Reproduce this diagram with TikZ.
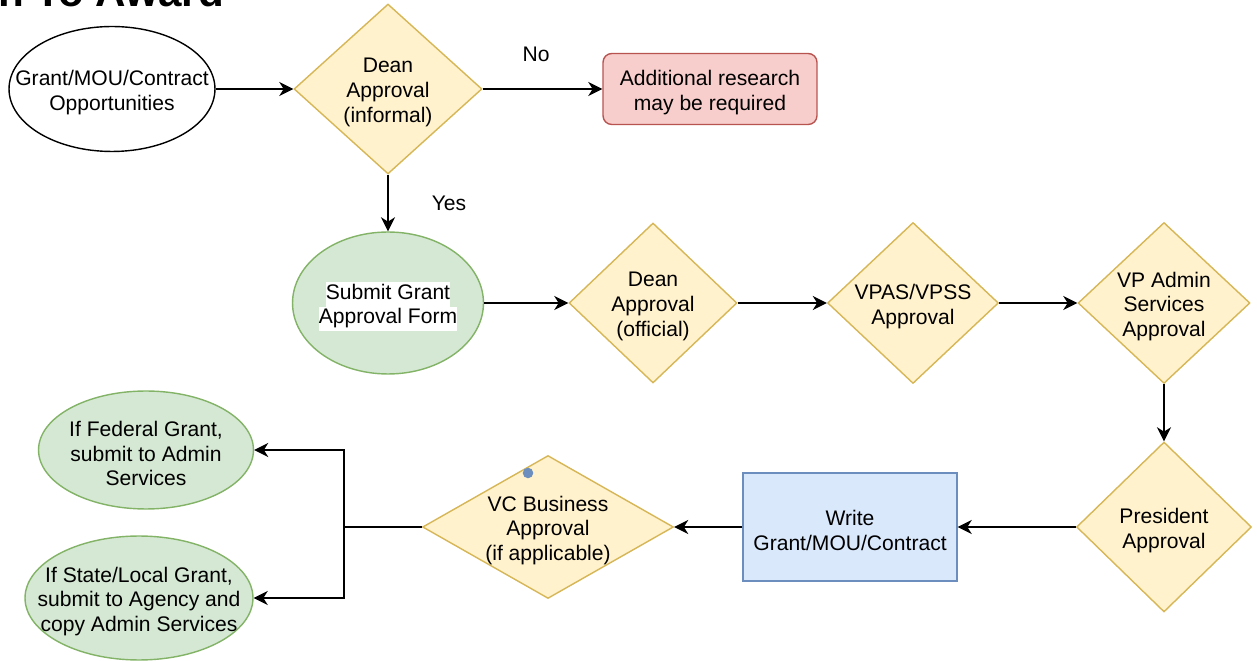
\documentclass[tikz,border=0pt]{standalone}
\usepackage{fontspec}
\setmainfont{Liberation Sans}
\usetikzlibrary{shapes.geometric,arrows.meta}
\definecolor{decfill}{HTML}{FFF2CC}
\definecolor{decline}{HTML}{D6B656}
\definecolor{okfill}{HTML}{D5E8D4}
\definecolor{okline}{HTML}{82B366}
\definecolor{stopfill}{HTML}{F8CECC}
\definecolor{stopline}{HTML}{B85450}
\definecolor{taskfill}{HTML}{DAE8FC}
\definecolor{taskline}{HTML}{6C8EBF}
\setlength{\fboxsep}{0pt}
\begin{document}
\begin{tikzpicture}[x=0.02cm,y=-0.02cm,
                        font=\fontsize{12pt}{14.2pt}\selectfont,
                        txt/.style={align=center,yshift=-2pt},
                        flow/.style={line width=1.1pt,-{Stealth[length=8pt,width=8pt,inset=2.5pt]}},
                        decision/.style={diamond,draw=decline,fill=decfill,line width=0.8pt,inner sep=0pt},
                        greenoval/.style={ellipse,draw=okline,fill=okfill,line width=0.8pt,inner sep=0pt}]
                        \useasboundingbox (0,0) rectangle (1257,661);
                        \node[font=\fontsize{24pt}{28pt}\selectfont\bfseries,anchor=base west,inner sep=0pt] (title) at (-2,7) {n To Award};
                        \node[ellipse,draw,line width=0.8pt,inner sep=0pt,minimum width=4.12cm,minimum height=2.5cm,
                            label={[txt]center:Grant/MOU/Contract\\Opportunities}] (opps) at (112,89) {};
                        \node[decision,minimum width=3.76cm,minimum height=3.4cm,
                            label={[txt]center:Dean\\Approval\\(informal)}] (deaninf) at (388,89) {};
                        \node[draw=stopline,fill=stopfill,line width=0.8pt,rounded corners=5pt,minimum width=4.28cm,minimum height=1.42cm,
                            label={[txt]center:Additional research\\may be required}] (research) at (710,89) {};
                        \node (nolbl) at (536,54) {No};
                        \node (yeslbl) at (449,203) {Yes};
                        \node[greenoval,minimum width=3.82cm,minimum height=2.84cm,
                            label={[txt]center:\colorbox{white}{\strut Submit Grant}\\\colorbox{white}{\strut Approval Form}}] (submit) at (388,303) {};
                        \node[decision,minimum width=3.36cm,minimum height=3.2cm,
                            label={[txt]center:Dean\\Approval\\(official)}] (deanoff) at (653,303) {};
                        \node[decision,minimum width=3.42cm,minimum height=3.22cm,
                            label={[txt]center:VPAS/VPSS\\Approval}] (vpas) at (913,303) {};
                        \node[decision,minimum width=3.44cm,minimum height=3.22cm,
                            label={[txt]center:VP Admin\\Services\\Approval}] (vpadmin) at (1164,303) {};
                        \node[decision,minimum width=3.5cm,minimum height=3.4cm,
                            label={[txt]center:President\\Approval}] (president) at (1164,527) {};
                        \node[draw=taskline,fill=taskfill,line width=0.8pt,minimum width=4.28cm,minimum height=2.16cm,
                            label={[txt]center:Write\\Grant/MOU/Contract}] (writeup) at (850,527) {};
                        \node[decision,minimum width=5.02cm,minimum height=2.86cm,
                            label={[txt]center:VC Business\\Approval\\(if applicable)}] (vcbiz) at (548,527) {};
                        \fill[taskline] (528,473) coordinate (hoverdot) circle (3pt);
                        \node[greenoval,minimum width=4.3cm,minimum height=2.36cm,
                            label={[txt]center:If Federal Grant,\\submit to Admin\\Services}] (fedgrant) at (146,450) {};
                        \node[greenoval,minimum width=4.56cm,minimum height=2.48cm,
                            label={[txt]center:If State/Local Grant,\\submit to Agency and\\copy Admin Services}] (stategrant) at (139,598) {};
                        \coordinate (split) at (344,527);
                        \draw[flow] (opps) -- (deaninf);
                        \draw[flow] (deaninf) -- (research);
                        \draw[flow] (deaninf) -- (submit);
                        \draw[flow] (submit) -- (deanoff);
                        \draw[flow] (deanoff) -- (vpas);
                        \draw[flow] (vpas) -- (vpadmin);
                        \draw[flow] (vpadmin) -- (president);
                        \draw[flow] (president) -- (writeup);
                        \draw[flow] (writeup) -- (vcbiz);
                        \draw[line width=1.1pt] (vcbiz) -- (split);
                        \draw[flow] (split) |- (fedgrant);
                        \draw[flow] (split) |- (stategrant);
                    \end{tikzpicture}
\end{document}
